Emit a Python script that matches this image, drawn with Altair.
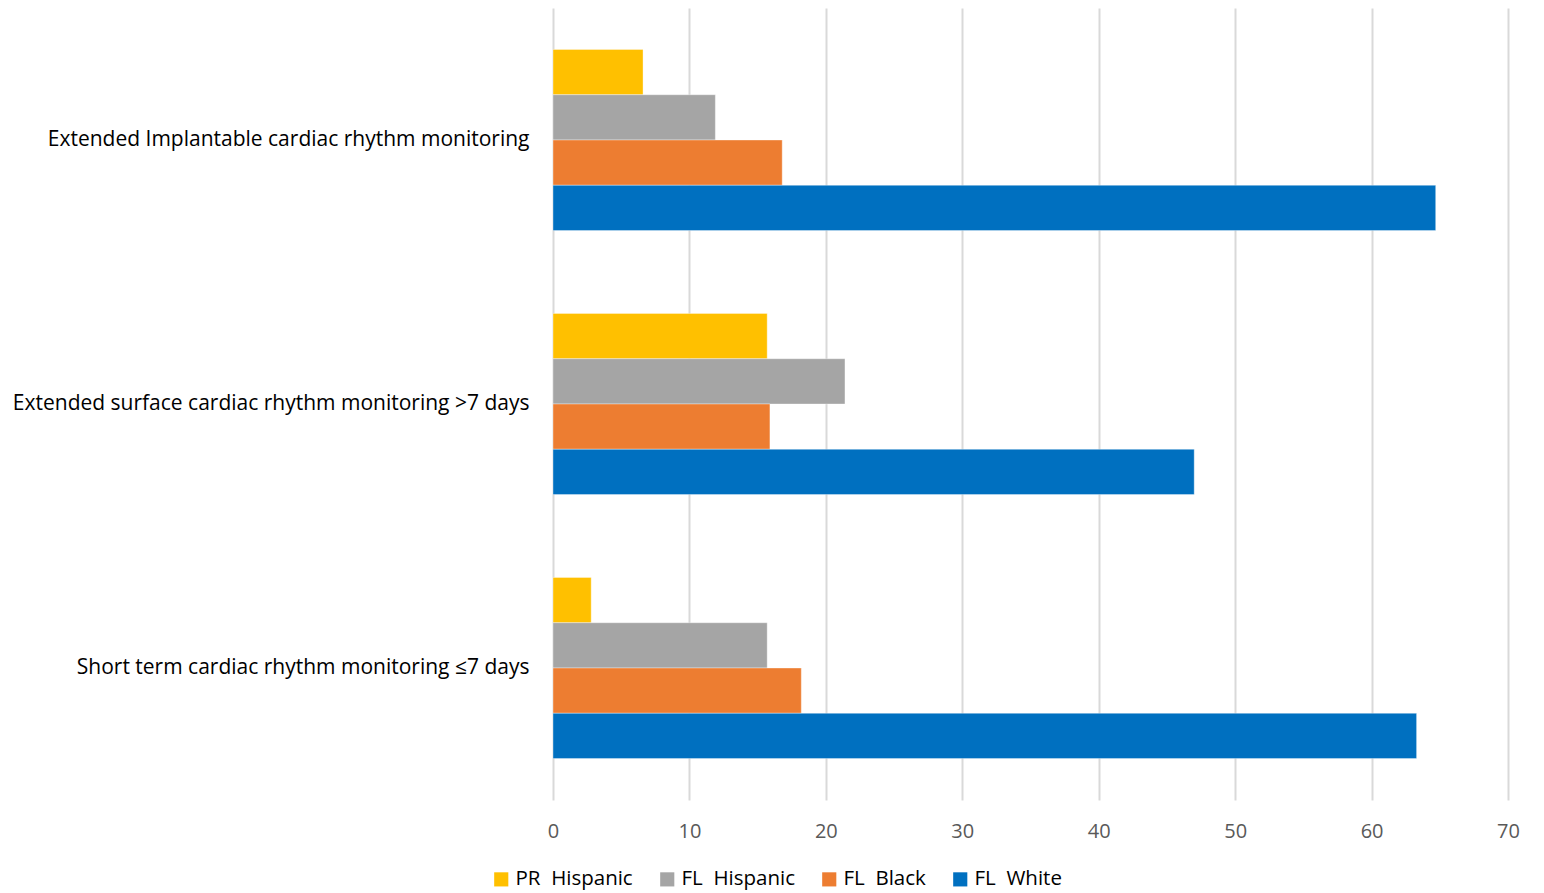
import altair as alt
import pandas as pd

categories = [
    "Extended Implantable cardiac rhythm monitoring",
    "Extended surface cardiac rhythm monitoring >7 days",
    "Short term cardiac rhythm monitoring \u22647 days",
]
series = ["PR\u00a0\u00a0Hispanic", "FL\u00a0\u00a0Hispanic", "FL\u00a0\u00a0Black", "FL\u00a0\u00a0White"]
colors = ["#FFC000", "#A5A5A5", "#ED7D31", "#0070C0"]

pr_hispanic = [6.6, 15.7, 2.8]
fl_hispanic = [11.9, 21.4, 15.7]
fl_black = [16.8, 15.9, 18.2]
fl_white = [64.7, 47.0, 63.3]

rows = []
for s, vals in zip(series, [pr_hispanic, fl_hispanic, fl_black, fl_white]):
    for c, v in zip(categories, vals):
        rows.append({"category": c, "series": s, "value": v})
df = pd.DataFrame(rows)

font = "Open Sans"

chart = alt.Chart(df).mark_bar(stroke="white", strokeWidth=0.6, strokeOpacity=0.6).encode(
    x=alt.X("value:Q",
            scale=alt.Scale(domain=[0, 70], nice=False),
            axis=alt.Axis(title=None, values=list(range(0, 71, 10)), grid=True,
                          gridColor="#D9D9D9", gridWidth=2, domain=False, ticks=False,
                          labelFlush=False,
                          labelFontSize=20, labelColor="#595959", labelPadding=21,
                          labelFont=font)),
    y=alt.Y("category:N", sort=categories,
            scale=alt.Scale(paddingInner=0.314, paddingOuter=0.157),
            axis=alt.Axis(title=None, domain=False, ticks=False, grid=False, labelFontSize=21,
                          labelColor="#000000", labelPadding=24, labelLimit=600,
                          labelFont=font)),
    yOffset=alt.YOffset("series:N", sort=series, scale=alt.Scale(paddingInner=0, paddingOuter=0)),
    color=alt.Color("series:N", sort=series,
                    scale=alt.Scale(domain=series, range=colors),
                    legend=alt.Legend(title=None, orient="none", direction="horizontal",
                                      legendX=-62, legendY=861, symbolType="square",
                                      symbolSize=200, symbolStrokeWidth=0,
                                      labelFontSize=20.5, labelColor="#000000",
                                      labelFont=font, columnPadding=24, labelOffset=4)),
).properties(
    width=955, height=792,
    background="white",
    autosize=alt.AutoSizeParams(type="none"),
    padding={"left": 553, "top": 8, "right": 36, "bottom": 93},
).configure_view(strokeWidth=0, stroke="transparent")

chart.save("out.html", embed_options={"renderer": "svg", "actions": False})
